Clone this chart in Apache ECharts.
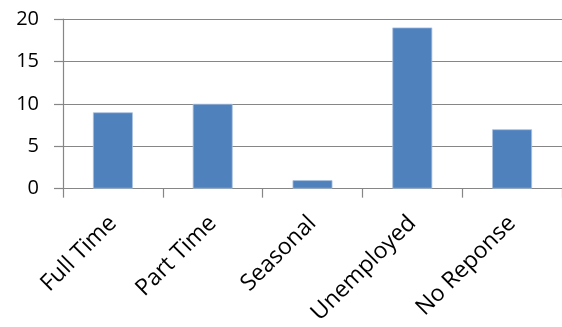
<!DOCTYPE html>
<html>
<head>
<meta charset="utf-8">
<script src="https://cdn.jsdelivr.net/npm/echarts@6/dist/echarts.min.js"></script>
<style>
  html, body { margin: 0; padding: 0; background: #ffffff; }
  #chart { width: 562px; height: 327px; }
</style>
</head>
<body>
<div id="chart"></div>
<script>
// Employment status counts
const categories = ['Full Time', 'Part Time', 'Seasonal', 'Unemployed', 'No Reponse'];
const counts = [9, 10, 1, 19, 7];
const yTicks = { min: 0, max: 20, interval: 5 };

const fontFamily = "'Open Sans', 'Liberation Sans', sans-serif";
const axisGray = '#868686';

const chart = echarts.init(document.getElementById('chart'), null, { renderer: 'canvas' });
chart.setOption({
  animation: false,
  backgroundColor: '#ffffff',
  grid: { left: 63, top: 19, width: 502, height: 171, containLabel: false },
  xAxis: {
    type: 'category',
    data: categories,
    axisLine: { show: true, lineStyle: { color: axisGray, width: 1.2 } },
    axisTick: { show: true, alignWithLabel: false, length: 9, lineStyle: { color: axisGray, width: 1.2 } },
    axisLabel: {
      rotate: 45,
      interval: 0,
      margin: 31,
      color: '#000000',
      fontSize: 23,
      fontFamily: fontFamily
    },
    splitLine: { show: false }
  },
  yAxis: {
    type: 'value',
    min: yTicks.min,
    max: yTicks.max,
    interval: yTicks.interval,
    axisLine: { show: true, lineStyle: { color: axisGray, width: 1.2 } },
    axisTick: { show: true, length: 9, lineStyle: { color: axisGray, width: 1.2 } },
    axisLabel: {
      margin: 24,
      color: '#000000',
      fontSize: 20,
      fontFamily: fontFamily
    },
    splitLine: { show: true, lineStyle: { color: axisGray, width: 1.2 } }
  },
  series: [{
    type: 'bar',
    data: counts,
    barWidth: '40%',
    itemStyle: { color: '#4f81bd', borderColor: '#a9c1e0', borderWidth: 0.8 }
  }]
});
</script>
</body>
</html>
